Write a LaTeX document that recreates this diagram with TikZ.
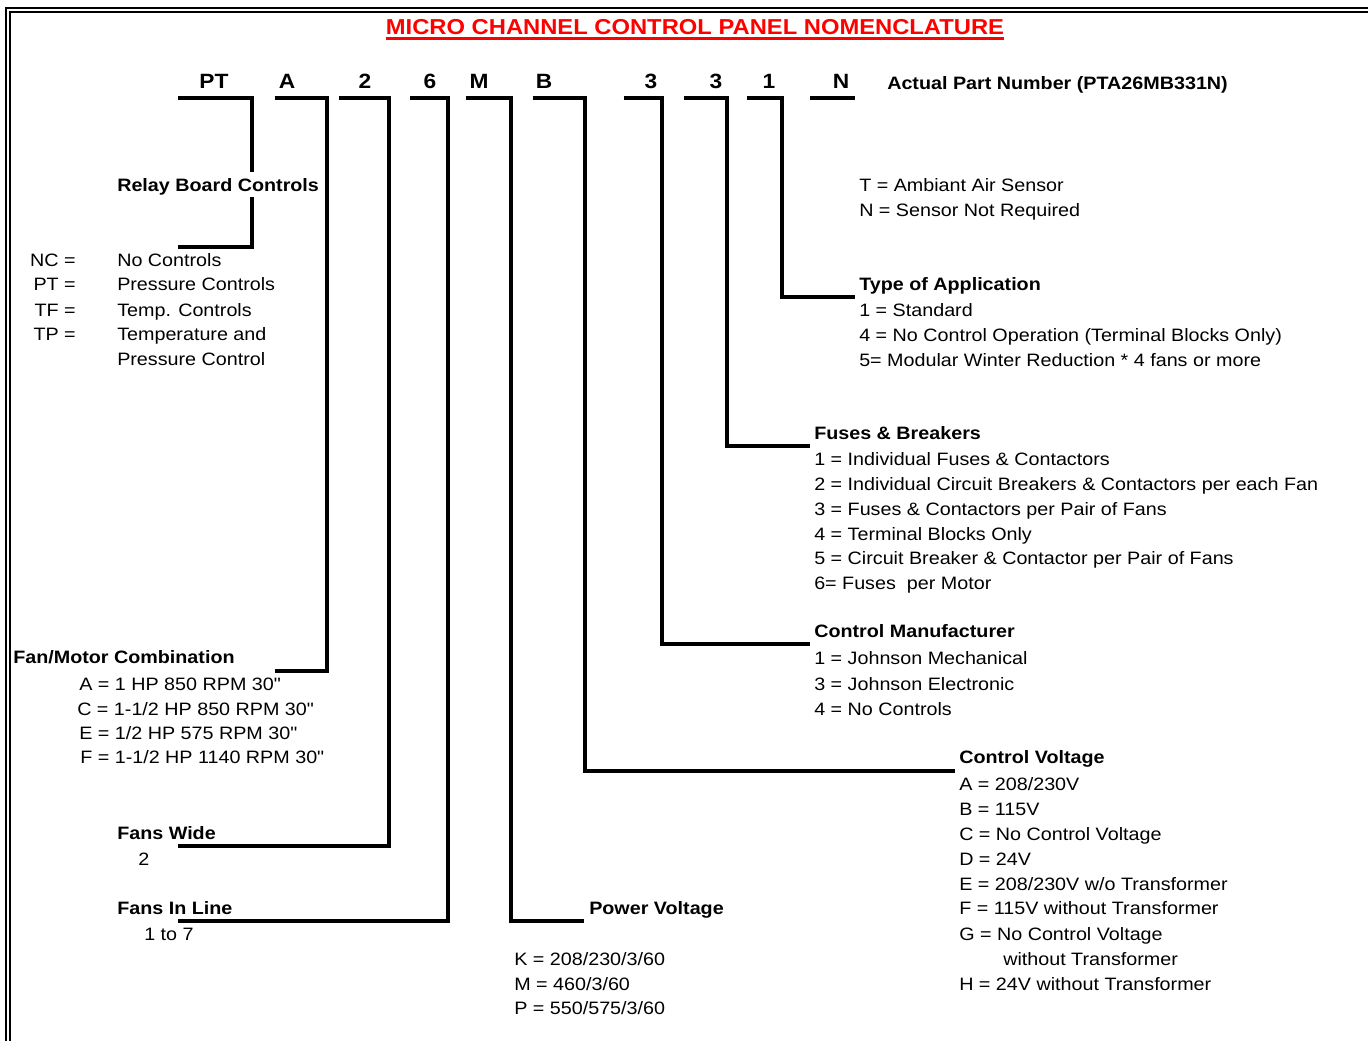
\documentclass[tikz,border=0pt]{standalone}
\usepackage{fontspec}
\setmainfont{Liberation Sans}[FakeStretch=1.1,Ligatures=TeXOff]
\begin{document}
\begin{tikzpicture}[x=0.75pt,y=-0.75pt,
  txt/.style={anchor=base west,inner sep=0pt,font=\fontsize{13.45}{16}\selectfont},
  txr/.style={anchor=base east,inner sep=0pt,font=\fontsize{13.45}{16}\selectfont},
  hd/.style={anchor=base west,inner sep=0pt,font=\fontsize{13.45}{16}\selectfont\bfseries},
  code/.style={anchor=base,inner sep=0pt,font=\fontsize{15.5}{18}\selectfont\bfseries},
  br/.style={line width=3pt,line join=miter},
  frame/.style={line width=1.5pt}]
\useasboundingbox (0,0) rectangle (1368,1040);
\clip (0,0) rectangle (1368,1040);
% double frame
\draw[frame] (5.7,7.7) rectangle (1420,1100);
\draw[frame] (9.7,11.5) rectangle (1420,1100);
% title
\node[anchor=base,inner sep=0pt,text=red,font=\fontsize{16.2}{19}\selectfont\bfseries] (title) at (695,34.5) {MICRO CHANNEL CONTROL PANEL NOMENCLATURE};
\draw[red,line width=1.9pt] ([yshift=-2.8pt]title.base west) -- ([yshift=-2.8pt]title.base east);
% code letters
\node[code] (cPT) at (214,88.5) {PT};
\node[code] (cA) at (287,88.5) {A};
\node[code] (c2) at (365,88.5) {2};
\node[code] (c6) at (430,88.5) {6};
\node[code] (cM) at (479,88.5) {M};
\node[code] (cB) at (544,88.5) {B};
\node[code] (c3a) at (651,88.5) {3};
\node[code] (c3b) at (716,88.5) {3};
\node[code] (c1) at (769,88.5) {1};
\node[code] (cN) at (841,88.5) {N};
\node[hd] (actual) at (887,89) {Actual Part Number (PTA26MB331N)};
% Relay board controls
\node[hd] (relay) at (117,191) {Relay Board Controls};
\node[txr] (k1) at (76,266) {NC =};
\node[txr] (k2) at (76,290) {PT =};
\node[txr] (k3) at (76,316) {TF =};
\node[txr] (k4) at (76,340.5) {TP =};
\node[txt] (v1) at (117,266) {No Controls};
\node[txt] (v2) at (117,290) {Pressure Controls};
\node[txt] (v3) at (117,316) {Temp. Controls};
\node[txt] (v4) at (117,340.5) {Temperature and};
\node[txt] (v5) at (117,365) {Pressure Control};
% Fan/Motor
\node[hd] (fanmotor) at (13,663.5) {Fan/Motor Combination};
\node[txt] (fm1) at (79,690) {A = 1 HP 850 RPM 30"};
\node[txt] (fm2) at (77,715) {C = 1-1/2 HP 850 RPM 30"};
\node[txt] (fm3) at (79,739.5) {E = 1/2 HP 575 RPM 30"};
\node[txt] (fm4) at (80,763.5) {F = 1-1/2 HP 1140 RPM 30"};
% Fans wide / in line
\node[hd] (fw) at (117,839) {Fans Wide};
\node[txt] (fw1) at (138,865) {2};
\node[hd] (fil) at (117,914) {Fans In Line};
\node[txt] (fil1) at (144,940) {1 to 7};
% Power voltage
\node[hd] (pv) at (589,914) {Power Voltage};
\node[txt] (pv1) at (514,965) {K = 208/230/3/60};
\node[txt] (pv2) at (514,990) {M = 460/3/60};
\node[txt] (pv3) at (514,1014) {P = 550/575/3/60};
% Sensor
\node[txt] (s1) at (859,191) {T = Ambiant Air Sensor};
\node[txt] (s2) at (859,216) {N = Sensor Not Required};
% Type of application
\node[hd] (toa) at (859,290) {Type of Application};
\node[txt] (toa1) at (859,316.5) {1 = Standard};
\node[txt] (toa2) at (859,341) {4 = No Control Operation (Terminal Blocks Only)};
\node[txt] (toa3) at (859,366) {5= Modular Winter Reduction * 4 fans or more};
% Fuses & breakers
\node[hd] (fb) at (814,439) {Fuses \& Breakers};
\node[txt] (fb1) at (814,465.5) {1 = Individual Fuses \& Contactors};
\node[txt] (fb2) at (814,490.5) {2 = Individual Circuit Breakers \& Contactors per each Fan};
\node[txt] (fb3) at (814,515) {3 = Fuses \& Contactors per Pair of Fans};
\node[txt] (fb4) at (814,540) {4 = Terminal Blocks Only};
\node[txt] (fb5) at (814,564.5) {5 = Circuit Breaker \& Contactor per Pair of Fans};
\node[txt] (fb6) at (814,589) {6= Fuses~~per Motor};
% Control manufacturer
\node[hd] (cm) at (814,637.5) {Control Manufacturer};
\node[txt] (cm1) at (814,664) {1 = Johnson Mechanical};
\node[txt] (cm2) at (814,690) {3 = Johnson Electronic};
\node[txt] (cm3) at (814,715) {4 = No Controls};
% Control voltage
\node[hd] (cv) at (959,763.5) {Control Voltage};
\node[txt] (cv1) at (959,790) {A = 208/230V};
\node[txt] (cv2) at (959,815) {B = 115V};
\node[txt] (cv3) at (959,840) {C = No Control Voltage};
\node[txt] (cv4) at (959,865) {D = 24V};
\node[txt] (cv5) at (959,890) {E = 208/230V w/o Transformer};
\node[txt] (cv6) at (959,914.5) {F = 115V without Transformer};
\node[txt] (cv7) at (959,940) {G = No Control Voltage};
\node[txt] (cv8) at (1003,965) {without Transformer};
\node[txt] (cv9) at (959,990) {H = 24V without Transformer};
% brackets
\draw[br] (178,97.5) -- (252,97.5) -- (252,172);
\draw[br] (252,197) -- (252,246.5) -- (178,246.5);
\draw[br] (274.5,97.5) -| (327,670.5) -- (274.5,670.5);
\draw[br] (339,97.5) -| (388.5,845.5) -- (178,845.5);
\draw[br] (410,97.5) -| (447.5,921) -- (178,921);
\draw[br] (465.5,97.5) -| (511,921) -- (584,921);
\draw[br] (532.5,97.5) -| (585,770.5) -- (955,770.5);
\draw[br] (623.5,97.5) -| (661.5,644) -- (810,644);
\draw[br] (684,97.5) -| (727,445.5) -- (810,445.5);
\draw[br] (747,97.5) -| (782,297) -- (855,297);
\draw[br] (810,97.5) -- (855,97.5);
\end{tikzpicture}
\end{document}
